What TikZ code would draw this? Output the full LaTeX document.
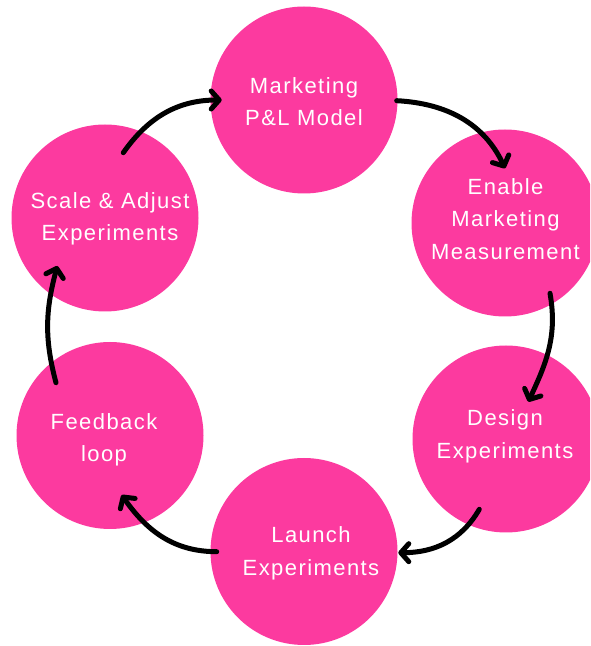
\documentclass[tikz,border=0pt]{standalone}
\usepackage{fontspec}
\setmainfont{Liberation Sans}[LetterSpace=6.5]
\usetikzlibrary{arrows.meta,calc}
\definecolor{bubble}{HTML}{FC3A9F}

\begin{document}
\begin{tikzpicture}[x=1pt,y=1pt,
  stage/.style={circle,fill=bubble,minimum size=187pt,inner sep=0pt},
  caption/.style={text=white,align=center,inner sep=0pt,font=\fontsize{22}{32.5}\selectfont},
  flow/.style={line width=5pt,line cap=round,-{Straight Barb[length=8pt,width=18pt,round]}}]
\useasboundingbox (0,0) rectangle (590,646);
\clip (0,0) rectangle (590,646);

% stages of the cycle
\node[stage] (c1) at (304,546) {};
\node[stage] (c2) at (505,423) {};
\node[stage] (c3) at (506,207) {};
\node[stage] (c4) at (304,94.5) {};
\node[stage] (c5) at (110,210.5) {};
\node[stage] (c6) at (105,428) {};

% stage labels
\node[caption] (t1) at (304,544.5) {Marketing\\P\&L Model};
\node[caption] (t2) at (505.5,427) {Enable\\Marketing\\Measurement};
\node[caption] (t3) at (505,209.5) {Design\\Experiments};
\node[caption] (t4) at (311,92.5) {Launch\\Experiments};
\node[caption] (t5) at (104,206) {Feedback\\loop};
\node[caption] (t6) at (110,427) {Scale \& Adjust\\Experiments};

% arrow end points
\coordinate (a1s) at ($(c6)+(18.3,65.3)$);
\coordinate (a1e) at ($(c1)+(-82.3,0)$);
\coordinate (a2s) at ($(c1)+(92.7,-0.7)$);
\coordinate (a2e) at ($(c2)+(0,54.7)$);
\coordinate (a3s) at ($(c2)+(45,-70.3)$);
\coordinate (a3e) at ($(c3)+(22.3,37.3)$);
\coordinate (a4s) at ($(c3)+(-26.7,-70.3)$);
\coordinate (a4e) at ($(c4)+(94.3,-1.2)$);
\coordinate (a5s) at ($(c4)+(-87.3,-0.2)$);
\coordinate (a5e) at ($(c5)+(11.7,-59.5)$);
\coordinate (a6s) at ($(c5)+(-54,52.8)$);
\coordinate (a6e) at ($(c6)+(-47.7,-48)$);

% cycle arrows
\draw[flow] (a1s) to[out=55,in=180] (a1e);
\draw[flow] (a2s) to[out=-3,in=115] (a2e);
\draw[flow] (a3s) to[out=-80,in=65] (a3e);
\draw[flow] (a4s) to[out=-120,in=0] (a4e);
\draw[flow] (a5s) to[out=180,in=-55] (a5e);
\draw[flow] (a6s) to[out=105,in=-105] (a6e);
\end{tikzpicture}
\end{document}
